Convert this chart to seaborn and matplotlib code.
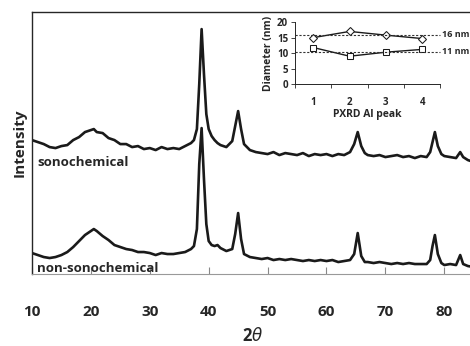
import numpy as np
import pandas as pd
import seaborn as sns
import matplotlib
matplotlib.use("Agg")
import matplotlib.pyplot as plt

# PXRD patterns (2theta in degrees, intensity in arb. units)
two_theta = [10, 11, 12, 13, 14, 15, 16, 17, 18, 19, 20, 20.5, 21, 22, 23, 24, 25, 26, 27, 28, 29,
             30, 31, 32, 33, 34, 35, 36, 37, 37.5, 38.0, 38.4, 38.8, 39.2, 39.6, 40.0, 40.5, 41, 41.5,
             42, 43, 44, 44.5, 45.0, 45.5, 46, 47, 48, 49, 50, 51, 52, 53, 54, 55, 56, 57, 58, 59,
             60, 61, 62, 63, 64, 64.7, 65.3, 65.9, 66.5, 67, 68, 69, 70, 71, 72, 73, 74, 75, 76,
             77, 77.6, 78.0, 78.4, 78.9, 79.5, 80, 81, 82, 82.7, 83.2, 84, 85]
sono = [134, 132, 130, 127, 126, 128, 129, 134, 137, 142, 144, 145, 142, 141, 136, 134, 130, 130, 127,
        128, 125, 126, 124, 127, 125, 126, 125, 128, 131, 134, 145, 190, 245, 200, 160, 145, 138, 134, 131,
        129, 127, 133, 148, 163, 145, 130, 124, 122, 121, 120, 122, 119, 121, 120, 119, 121, 118, 120, 119,
        120, 118, 120, 119, 122, 130, 142, 128, 121, 119, 118, 119, 117, 118, 119, 117, 118, 116, 118,
        117, 122, 132, 142, 128, 120, 118, 117, 116, 122, 117, 114, 112]
non_sono = [21, 19, 17, 16, 17, 19, 22, 27, 33, 39, 43, 45, 43, 38, 34, 29, 27, 25, 24, 22, 22,
            21, 19, 21, 20, 20, 21, 22, 25, 28, 45, 110, 146, 95, 50, 33, 29, 28, 29,
            26, 23, 25, 40, 61, 35, 20, 17, 16, 15, 16, 14, 15, 14, 15, 14, 13, 14, 13, 14,
            13, 14, 12, 13, 14, 20, 41, 18, 12, 12, 11, 12, 11, 10, 11, 10, 11, 10, 10,
            10, 14, 28, 39, 20, 11, 9, 10, 9, 19, 10, 8, 7]

# inset: crystallite diameter per Al peak
peak_no = [1, 2, 3, 4]
d_sono = [15, 17, 15.8, 14.7]
d_non = [11.8, 9, 10.3, 11.2]
avg_sono, avg_non = 16, 10.5

sns.set_style("ticks")
plt.rcParams['font.family'] = ['Open Sans', 'DejaVu Sans']
plt.rcParams['mathtext.fontset'] = 'dejavusans'

fig = plt.figure(figsize=(4.7, 3.46), dpi=100)
ax = fig.add_axes([0.068, 0.208, 0.94, 0.757])

df = pd.DataFrame({'x': two_theta, 'sono': sono, 'non': non_sono})
sns.lineplot(data=df, x='x', y='sono', color='#1a1a1a', lw=1.9, ax=ax)
sns.lineplot(data=df, x='x', y='non', color='#1a1a1a', lw=1.9, ax=ax)

ax.set_xlim(10, 85)
ax.set_ylim(0, 262)
ax.set_yticks([])
ax.set_xticks(range(10, 81, 10))
ax.tick_params(axis='x', direction='in', length=5, color='#888888', pad=22, labelsize=11)
for t in ax.get_xticklabels():
    t.set_fontweight('bold')
ax.spines['right'].set_visible(False)
ax.spines['bottom'].set_color('#999999')
ax.spines['top'].set_linewidth(1.0)
ax.spines['left'].set_linewidth(1.0)
ax.set_ylabel('Intensity', fontsize=11, fontweight='bold', labelpad=4)
ax.set_xlabel(r'2$\it{\theta}$', fontsize=12, fontweight='bold', labelpad=6)

ax.text(10.9, 112, 'sonochemical', fontsize=9.5, fontweight='bold', va='center')
ax.text(10.9, 6, 'non-sonochemical', fontsize=9.5, fontweight='bold', va='center')

# inset
ins = fig.add_axes([0.628, 0.757, 0.309, 0.179])
sns.lineplot(x=peak_no, y=d_sono, marker='D', color='#1a1a1a', lw=1.0, ms=4.5,
             markerfacecolor='white', markeredgecolor='#1a1a1a', ax=ins)
sns.lineplot(x=peak_no, y=d_non, marker='s', color='#1a1a1a', lw=1.0, ms=4.5,
             markerfacecolor='white', markeredgecolor='#1a1a1a', ax=ins)
for v, lab in [(avg_sono, '16 nm'), (avg_non, '11 nm')]:
    ins.plot([0.5, 4.5], [v, v], ls=(0, (2, 1.5)), color='#333333', lw=0.8, clip_on=False)
    ins.text(4.55, v, lab, fontsize=6.5, fontweight='bold', va='center')
ins.set_xlim(0.5, 4.5)
ins.set_ylim(0, 20)
ins.set_yticks([0, 5, 10, 15, 20])
ins.set_xticks([1, 2, 3, 4])
ins.set_xticks([0.5, 1.5, 2.5, 3.5, 4.5], minor=True)
ins.tick_params(axis='x', which='major', length=0, pad=9, labelsize=7)
ins.tick_params(axis='x', which='minor', length=3, width=0.6)
ins.tick_params(axis='y', length=3, width=0.6, pad=2, labelsize=7)
for t in ins.get_xticklabels() + ins.get_yticklabels():
    t.set_fontweight('bold')
for s in ['top', 'right']:
    ins.spines[s].set_visible(False)
for s in ['left', 'bottom']:
    ins.spines[s].set_linewidth(0.7)
ins.patch.set_alpha(0)
ins.set_xlabel('PXRD Al peak', fontsize=7.5, fontweight='bold', labelpad=1)
ins.set_ylabel('Diameter (nm)', fontsize=7.5, fontweight='bold', labelpad=2)

fig.savefig('out.png', dpi=100)
